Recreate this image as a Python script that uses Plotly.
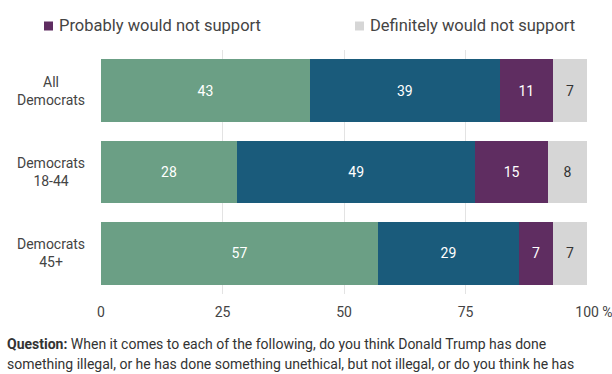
import plotly.graph_objects as go

groups = ["All<br>Democrats", "Democrats<br>18-44", "Democrats<br>45+"]
series_names = ["Definitely would support", "Probably would support",
                "Probably would not support", "Definitely would not support"]
values = {
    "Definitely would support": [43, 28, 57],
    "Probably would support": [39, 49, 29],
    "Probably would not support": [11, 15, 7],
    "Definitely would not support": [7, 8, 7],
}
x_ticks = [0, 25, 50, 75, 100]
x_tick_labels = ["0", "25", "50", "75", "\u00a0\u00a0\u00a0\u00a0100 %"]
question_lines = [
    "<b>Question:</b> When it comes to each of the following, do you think Donald Trump has done",
    "something illegal, or he has done something unethical, but not illegal, or do you think he has",
    "not done anything wrong? If Joe Biden decided to run for president again in 2024, would you",
]

colors = ["#6b9f85", "#1a5b7b", "#5f2d61", "#d6d6d6"]
text_colors = ["#ffffff", "#ffffff", "#ffffff", "#333333"]
FONT = "Roboto"

W, H = 612, 374
L, R, T, B = 101, 25, 50, 80
PW, PH = W - L - R, H - T - B


def px_x(p):
    return (p - L) / PW


def px_y(p):
    return (H - B - p) / PH


fig = go.Figure()
for name, col, tcol in zip(series_names, colors, text_colors):
    fig.add_trace(go.Bar(
        y=groups, x=values[name], orientation="h", name=name,
        marker=dict(color=col, line=dict(width=0)),
        text=[str(v) for v in values[name]], textposition="inside",
        insidetextanchor="middle", textangle=0,
        textfont=dict(family=FONT, size=14, color=tcol),
        showlegend=False, hoverinfo="skip",
    ))

annotations = []
# category labels, centered multi-line
for g in groups:
    annotations.append(dict(
        x=0, xref="paper", y=g, yref="y", xanchor="right", xshift=-14,
        text=g, showarrow=False, align="center",
        font=dict(family=FONT, size=14, color="#444444")))

# legend (two columns, first row clipped by the top edge)
legend_pos = [(44, -11), (355, -11), (44, 26), (355, 26)]
shapes = []
for name, col, (lx, ly) in zip(series_names, colors, legend_pos):
    shapes.append(dict(type="rect", xref="paper", yref="paper",
                       x0=px_x(lx), x1=px_x(lx + 9), y0=px_y(ly - 4.5), y1=px_y(ly + 4.5),
                       fillcolor=col, line=dict(width=0)))
    annotations.append(dict(
        x=px_x(lx + 13), xref="paper", y=px_y(ly), yref="paper",
        xanchor="left", yanchor="middle", text=name, showarrow=False,
        font=dict(family=FONT, size=16.5, color="#444444")))

# question note
for i, line in enumerate(question_lines):
    annotations.append(dict(
        x=px_x(5), xref="paper", y=px_y(344 + i * 19.5), yref="paper",
        xanchor="left", yanchor="middle", text=line, showarrow=False, align="left",
        font=dict(family=FONT, size=14, color="#333333")))

fig.update_layout(
    width=W, height=H,
    margin=dict(l=L, r=R, t=T, b=B, autoexpand=False),
    barmode="stack", bargap=0.23,
    plot_bgcolor="white", paper_bgcolor="white",
    uniformtext=dict(minsize=14, mode="show"),
    annotations=annotations, shapes=shapes,
    showlegend=False,
    font=dict(family=FONT, size=14, color="#444444"),
)
fig.update_xaxes(range=[0, 100], tickvals=x_ticks, ticktext=x_tick_labels,
                 showgrid=True, gridcolor="#e3e3e3", gridwidth=1, zeroline=False,
                 showline=False, ticks="", ticklabelstandoff=8, ticklabeloverflow="allow",
                 tickfont=dict(family=FONT, size=14, color="#444444"), fixedrange=True)
fig.update_yaxes(autorange="reversed", showticklabels=False, showgrid=False,
                 zeroline=False, showline=False, ticks="", fixedrange=True)

fig.write_html("out.html", config={"displayModeBar": False},
               post_script="document.body.style.margin='0';document.body.style.overflow='hidden';")
